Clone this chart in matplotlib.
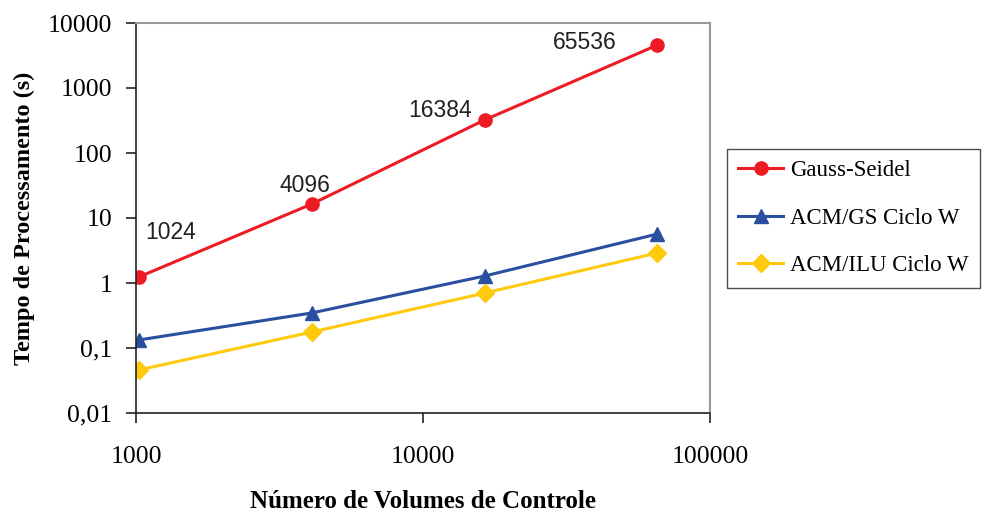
import numpy as np
import matplotlib.pyplot as plt
from matplotlib.ticker import FixedLocator, NullLocator

# data
volumes = [1024, 4096, 16384, 65536]
gauss_seidel = [1.24, 16.4, 322, 4580]
acm_gs = [0.133, 0.346, 1.28, 5.67]
acm_ilu = [0.046, 0.176, 0.70, 2.9]
point_labels = ['1024', '4096', '16384', '65536']

y_ticks = [0.01, 0.1, 1, 10, 100, 1000, 10000]
y_tick_labels = ['0,01', '0,1', '1', '10', '100', '1000', '10000']
x_ticks = [1000, 10000, 100000]
x_tick_labels = ['1000', '10000', '100000']

serif = ['Liberation Serif', 'DejaVu Serif']
sans = ['Liberation Sans', 'DejaVu Sans']

fig = plt.figure(figsize=(9.86, 5.17), dpi=100)
ax = fig.add_axes([136 / 986, 1 - 413 / 517, (710 - 136) / 986, (413 - 23) / 517])

ax.plot(volumes, gauss_seidel, color='#ED1C24', lw=2.2, marker='o', ms=9.5, label='Gauss-Seidel')
ax.plot(volumes, acm_gs, color='#2B4FA0', lw=2.2, marker='^', ms=10.5, label='ACM/GS Ciclo W')
ax.plot(volumes, acm_ilu, color='#FFC90E', lw=2.2, marker='D', ms=9.5, label='ACM/ILU Ciclo W')

# labels next to the Gauss-Seidel points
offsets = [(23, 32), (-5, 13), (-32, 7), (-52, 1.5)]
for xv, yv, txt, off in zip(volumes, gauss_seidel, point_labels, offsets):
    ax.annotate(txt, (xv, yv), xytext=off, textcoords='offset points',
                ha='center', va='center', fontsize=16.5, family=sans, color='#222222')

ax.set_xscale('log')
ax.set_yscale('log')
ax.set_xlim(1000, 100000)
ax.set_ylim(0.01, 10000)

ax.xaxis.set_major_locator(FixedLocator(x_ticks))
ax.xaxis.set_minor_locator(NullLocator())
ax.set_xticklabels(x_tick_labels, family=serif, fontsize=18.5)
ax.yaxis.set_major_locator(FixedLocator(y_ticks))
ax.yaxis.set_minor_locator(NullLocator())
ax.set_yticklabels(y_tick_labels, family=serif, fontsize=18.5)
ax.tick_params(direction='out', length=7, width=1.2, color='#222222')
ax.tick_params(axis='y', pad=10)
ax.tick_params(axis='x', pad=17)

for side in ['top', 'right']:
    ax.spines[side].set_color('#999999')
    ax.spines[side].set_linewidth(1.5)
for side in ['left', 'bottom']:
    ax.spines[side].set_color('#222222')
    ax.spines[side].set_linewidth(1.2)

ax.set_xlabel('Número de Volumes de Controle', family=serif, fontsize=18,
              fontweight='bold')
ax.set_ylabel('Tempo de Processamento (s)', family=serif, fontsize=17.5,
              fontweight='bold')
ax.xaxis.label.set_va('center')
ax.yaxis.label.set_va('center')
ax.xaxis.set_label_coords(0.5, (413 - 501) / 390)
ax.yaxis.set_label_coords((24 - 136) / 574, 0.5)

leg = fig.legend(loc='upper left', bbox_to_anchor=(727 / 986, 1 - 149 / 517),
                 prop={'family': serif, 'size': 16.5}, frameon=True, fancybox=False,
                 edgecolor='#222222', borderpad=0.5, labelspacing=1.15,
                 handlelength=1.95, handletextpad=0.3, borderaxespad=0)
leg.get_frame().set_linewidth(1.0)

fig.savefig('out.png', dpi=100)
